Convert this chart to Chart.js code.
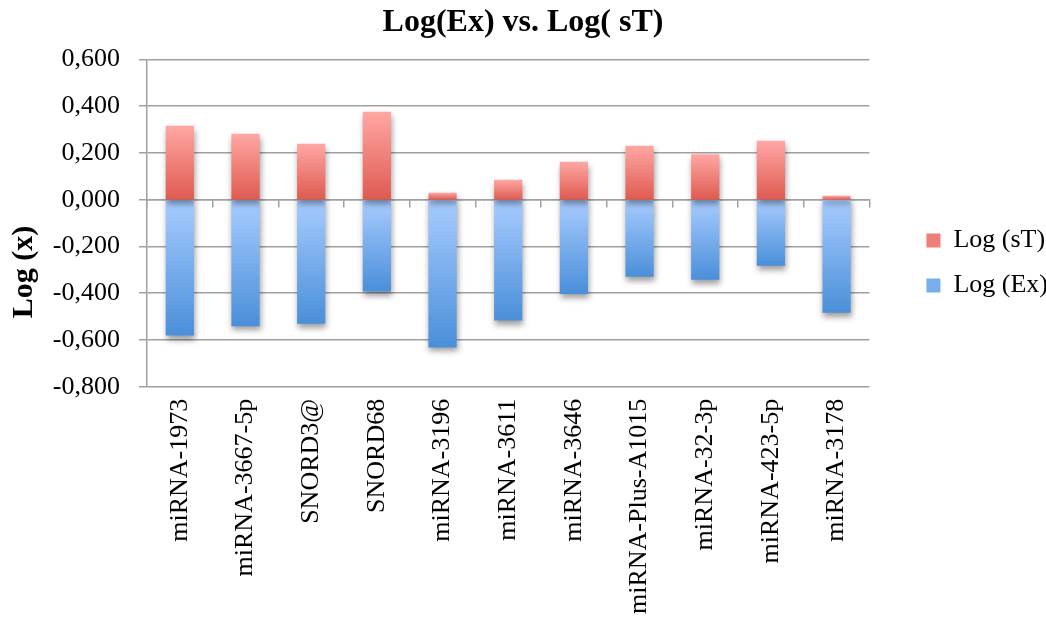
<!DOCTYPE html>
<html>
<head>
<meta charset="utf-8">
<title>Log(Ex) vs. Log( sT)</title>
<script src="https://cdn.jsdelivr.net/npm/chart.js@4.4.1/dist/chart.umd.min.js"></script>
<style>
  html, body { margin: 0; padding: 0; background: #ffffff; }
  #wrap { width: 1046px; height: 626px; position: relative; }
</style>
</head>
<body>
<div id="wrap"><canvas id="chart"></canvas></div>
<script>
// ---- data ----
const categories = [
  'miRNA-1973', 'miRNA-3667-5p', 'SNORD3@', 'SNORD68', 'miRNA-3196',
  'miRNA-3611', 'miRNA-3646', 'miRNA-Plus-A1015', 'miRNA-32-3p',
  'miRNA-423-5p', 'miRNA-3178'
];
const logST = [0.316, 0.282, 0.239, 0.376, 0.030, 0.085, 0.162, 0.231, 0.194, 0.252, 0.017];
const logEx = [-0.581, -0.541, -0.530, -0.393, -0.632, -0.517, -0.403, -0.329, -0.342, -0.282, -0.483];
const seriesNames = ['Log (sT)', 'Log (Ex)'];
const yTickValues = [-0.8, -0.6, -0.4, -0.2, 0, 0.2, 0.4, 0.6];
const yTickLabels = ['-0,800', '-0,600', '-0,400', '-0,200', '0,000', '0,200', '0,400', '0,600'];
const chartTitle = 'Log(Ex) vs. Log( sT)';
const yAxisTitle = 'Log (x)';

const SERIF = "'Liberation Serif', 'Times New Roman', serif";
const GRID = '#a0a0a0';

// vertical gradient spanning each bar from its end to the zero line
function barGradient(light, dark) {
  return (ctx) => {
    const chart = ctx.chart;
    const y = chart.scales && chart.scales.y;
    if (!chart.chartArea || !y || ctx.type !== 'data') return dark;
    const p0 = y.getPixelForValue(0);
    const p1 = y.getPixelForValue(ctx.raw);
    const top = Math.min(p0, p1), bot = Math.max(p0, p1);
    if (bot - top < 1) return light;
    const g = chart.ctx.createLinearGradient(0, top, 0, bot);
    g.addColorStop(0, light);
    g.addColorStop(1, dark);
    return g;
  };
}

// soft drop shadow under the bars
const barShadow = {
  id: 'barShadow',
  beforeDatasetsDraw(chart) {
    const c = chart.ctx;
    c.save();
    c.shadowColor = 'rgba(0,0,0,0.38)';
    c.shadowBlur = 6;
    c.shadowOffsetX = 1;
    c.shadowOffsetY = 4;
  },
  afterDatasetsDraw(chart) {
    chart.ctx.restore();
  }
};

// rotated value-axis title on the far left
const yTitlePlugin = {
  id: 'yTitle',
  afterDraw(chart) {
    const c = chart.ctx;
    const a = chart.chartArea;
    c.save();
    c.translate(24, (a.top + a.bottom) / 2 + 49);
    c.rotate(-Math.PI / 2);
    c.font = "bold 30px " + SERIF;
    c.fillStyle = '#000';
    c.textAlign = 'center';
    c.textBaseline = 'middle';
    c.fillText(yAxisTitle, 0, 0);
    c.restore();
  }
};

const legendSolids = ['#ee7f78', '#79aeec'];

new Chart(document.getElementById('chart'), {
  type: 'bar',
  data: {
    labels: categories,
    datasets: [
      {
        label: seriesNames[0],
        data: logST,
        backgroundColor: barGradient('#ffa7a4', '#df5a50'),
        borderWidth: 0,
        xAxisID: 'x',
        yAxisID: 'y'
      },
      {
        label: seriesNames[1],
        data: logEx,
        backgroundColor: barGradient('#a8ccff', '#4a8fd9'),
        borderWidth: 0,
        xAxisID: 'x',
        yAxisID: 'y'
      }
    ]
  },
  options: {
    responsive: true,
    maintainAspectRatio: false,
    animation: false,
    devicePixelRatio: 1,
    barPercentage: 0.43,
    categoryPercentage: 1.0,
    layout: { padding: { left: -12, right: -12, top: 0, bottom: 0 } },
    scales: {
      x: {
        type: 'category',
        position: 'bottom',
        stacked: true,
        offset: true,
        grid: { display: false, drawTicks: false },
        border: { display: false },
        ticks: {
          autoSkip: false,
          maxRotation: 90,
          minRotation: 90,
          padding: 12,
          color: '#000',
          font: { family: SERIF, size: 26 }
        }
      },
      xz: {
        type: 'category',
        position: { y: 0 },
        offset: true,
        z: 1,
        grid: {
          display: true,
          drawOnChartArea: false,
          drawTicks: true,
          tickLength: 7,
          color: GRID,
          lineWidth: 1.5,
          offset: true
        },
        border: { display: true, color: GRID, width: 1.5 },
        ticks: { display: false }
      },
      y: {
        type: 'linear',
        position: 'left',
        stacked: true,
        min: -0.8,
        max: 0.6,
        grid: { color: GRID, lineWidth: 1.5, tickLength: 8, drawTicks: true },
        border: { display: true, color: GRID, width: 1.5 },
        ticks: {
          stepSize: 0.2,
          padding: 19,
          color: '#000',
          font: { family: SERIF, size: 26 },
          callback: (v) => {
            const i = yTickValues.findIndex(t => Math.abs(t - v) < 1e-6);
            return i >= 0 ? yTickLabels[i] : '';
          }
        },
        afterFit(scale) { scale.width = 159; }
      },
      gap: {
        type: 'linear',
        position: 'right',
        display: true,
        grid: { display: false, drawTicks: false },
        border: { display: false },
        ticks: { display: false },
        afterFit(scale) { scale.width = 38; }
      }
    },
    plugins: {
      title: {
        display: true,
        text: chartTitle,
        color: '#000',
        font: { family: SERIF, size: 32, weight: 'bold' },
        padding: { top: 4, bottom: 17 }
      },
      legend: {
        display: true,
        position: 'right',
        align: 'start',
        title: { display: true, text: '', padding: { top: 194, bottom: 0 }, font: { size: 12 } },
        labels: {
          color: '#000',
          font: { family: SERIF, size: 26 },
          boxWidth: 14,
          boxHeight: 14,
          padding: 19,
          generateLabels(chart) {
            const items = Chart.defaults.plugins.legend.labels.generateLabels(chart);
            return items.map((it, i) => Object.assign(it, {
              fillStyle: legendSolids[i],
              strokeStyle: 'rgba(0,0,0,0)',
              lineWidth: 0
            }));
          }
        }
      },
      tooltip: { enabled: false }
    }
  },
  plugins: [barShadow, yTitlePlugin]
});
</script>
</body>
</html>
